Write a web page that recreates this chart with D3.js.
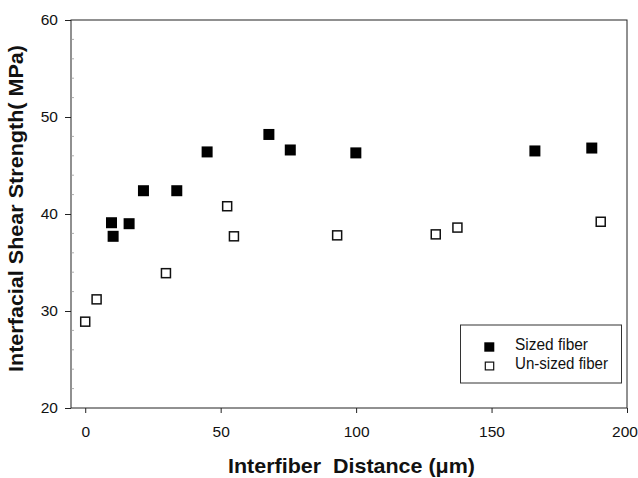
<!DOCTYPE html>
<html><head><meta charset="utf-8">
<script src="https://cdn.jsdelivr.net/npm/d3@7"></script>
<style>body{margin:0;background:#fff}svg{display:block}text{font-family:Arial,"Liberation Sans",sans-serif}</style>
</head><body><svg id="c" width="638" height="478"></svg>
<script>
const sizedX = [9.7, 10.3, 16.2, 21.5, 33.8, 45.0, 67.8, 75.7, 99.9, 166.0, 187.0];
const sizedY = [39.1, 37.7, 39.0, 42.4, 42.4, 46.4, 48.2, 46.6, 46.3, 46.5, 46.8];
const unsizedX = [0.0, 4.2, 29.8, 52.4, 54.9, 93.0, 129.4, 137.4, 190.3];
const unsizedY = [28.9, 31.2, 33.9, 40.8, 37.7, 37.8, 37.9, 38.6, 39.2];
const xTicks = [0, 50, 100, 150, 200];
const yTicks = [20, 30, 40, 50, 60];
const seriesNames = ["Sized fiber", "Un-sized fiber"];

const svg = d3.select("#c");
const L = 71, R = 627, T = 20, B = 408;
const x = d3.scaleLinear().domain([-5.25, 200]).range([L, R]);
const y = d3.scaleLinear().domain([20, 60]).range([B, T]);

// frame
svg.append("rect").attr("x", L).attr("y", T).attr("width", R - L).attr("height", B - T)
  .attr("fill", "none").attr("stroke", "#222").attr("stroke-width", 1);

// minor ticks
const minorY = d3.range(22, 60, 2).filter(v => v % 10 !== 0);
svg.append("g").selectAll("line").data(minorY).join("line")
  .attr("x1", L).attr("x2", L + 3).attr("y1", d => y(d)).attr("y2", d => y(d))
  .attr("stroke", "#999").attr("stroke-width", 0.8);

const xAxis = svg.append("g").attr("transform", `translate(0,${B})`)
  .call(d3.axisBottom(x).tickValues(xTicks).tickSize(5).tickPadding(12.5));
const yAxis = svg.append("g").attr("transform", `translate(${L},0)`)
  .call(d3.axisLeft(y).tickValues(yTicks).tickSize(6).tickPadding(7));
[xAxis, yAxis].forEach(g => {
  g.select(".domain").remove();
  g.selectAll(".tick line").attr("stroke", "#222");
  g.selectAll(".tick text").attr("font-size", 15.5).attr("fill", "#111")
    .attr("font-family", "Arial, 'Liberation Sans', sans-serif");
});
// keep the last x label inside the canvas
xAxis.selectAll(".tick text").filter(d => d === 200).attr("dx", -2.5);

const S = 11;
const sized = sizedX.map((v, i) => ({x: v, y: sizedY[i]}));
const unsized = unsizedX.map((v, i) => ({x: v, y: unsizedY[i]}));
svg.append("g").selectAll("rect").data(sized).join("rect")
  .attr("x", d => x(d.x) - S / 2).attr("y", d => y(d.y) - S / 2)
  .attr("width", S).attr("height", S).attr("fill", "#000");
svg.append("g").selectAll("rect").data(unsized).join("rect")
  .attr("x", d => x(d.x) - 4.5).attr("y", d => y(d.y) - 4.5)
  .attr("width", 9).attr("height", 9).attr("fill", "#fff")
  .attr("stroke", "#111").attr("stroke-width", 1.5);

// legend
const legendLens = [73, 93];
const lg = svg.append("g");
lg.append("rect").attr("x", 460.5).attr("y", 325).attr("width", 161).attr("height", 58)
  .attr("fill", "#fff").attr("stroke", "#333").attr("stroke-width", 1);
seriesNames.forEach((n, i) => {
  const cy = 347 + i * 19;
  if (i === 0) lg.append("rect").attr("x", 489.3 - 5).attr("y", cy - 4.7).attr("width", 10).attr("height", 9.4).attr("fill", "#000");
  else lg.append("rect").attr("x", 489.5 - 4.2).attr("y", cy - 3.9).attr("width", 8.4).attr("height", 7.8)
    .attr("fill", "#fff").attr("stroke", "#111").attr("stroke-width", 1.2);
  lg.append("text").attr("x", 515).attr("y", cy + 3.3).attr("font-size", 16).attr("fill", "#111")
    .attr("textLength", legendLens[i]).attr("lengthAdjust", "spacingAndGlyphs").text(n);
});

svg.append("text").attr("x", 351.5).attr("y", 473).attr("text-anchor", "middle")
  .attr("font-size", 21).attr("font-weight", "bold").attr("fill", "#111")
  .attr("textLength", 247).attr("lengthAdjust", "spacingAndGlyphs")
  .attr("xml:space", "preserve").style("white-space", "pre")
  .text("Interfiber  Distance (μm)");
svg.append("text").attr("transform", "translate(23,208.5) rotate(-90)").attr("text-anchor", "middle")
  .attr("font-size", 21).attr("font-weight", "bold").attr("fill", "#111")
  .attr("textLength", 327).attr("lengthAdjust", "spacingAndGlyphs")
  .text("Interfacial Shear Strength( MPa)");
</script></body></html>
